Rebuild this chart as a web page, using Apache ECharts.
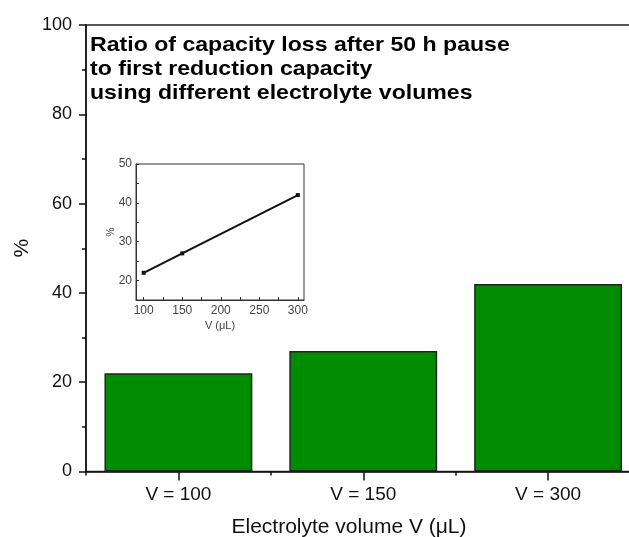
<!DOCTYPE html>
<html>
<head>
    <meta charset="UTF-8">
    <title>Capacity loss ratio</title>
    <script src="https://cdn.jsdelivr.net/npm/echarts@6/dist/echarts.min.js"></script>
    <style>
        html, body { margin: 0; padding: 0; background: #fff; }
        #main { width: 629px; height: 537px; }
    </style>
</head>
<body>
<div id="main"></div>
<script type="text/javascript">
    // data
    var categories = ['V = 100', 'V = 150', 'V = 300'];
    var lossRatio = [22, 27, 42];
    var yTicks = [0, 20, 40, 60, 80, 100];

    var insetVolume = [100, 150, 300];
    var insetRatio = [22, 27, 42];
    var insetXLabels = [100, 150, 200, 250, 300];
    var insetXTicks = [100, 125, 150, 175, 200, 225, 250, 275, 300];
    var insetYLabels = [20, 30, 40, 50];
    var insetYTicks = [20, 25, 30, 35, 40, 45, 50];

    var font = 'Liberation Sans, Arial, sans-serif';

    var myChart = echarts.init(document.getElementById('main'));

    var option = {
        animation: false,
        grid: [
            {
                left: 86, top: 25, width: 554.5, height: 446.5,
                show: true, borderColor: '#222', borderWidth: 1.5,
                containLabel: false, outerBoundsMode: 'none'
            },
            {
                left: 136, top: 164, width: 168, height: 136,
                show: true, borderColor: '#333', borderWidth: 1,
                containLabel: false, outerBoundsMode: 'none'
            }
        ],
        xAxis: [
            {
                type: 'category',
                gridIndex: 0,
                data: categories,
                axisLine: {lineStyle: {color: '#111', width: 1.5}},
                axisTick: {show: true, alignWithLabel: true, length: 9, lineStyle: {color: '#111', width: 1.5}},
                axisLabel: {margin: 14, fontSize: 19, color: '#111', fontFamily: font}
            },
            {
                // boundary ticks between categories
                type: 'category',
                gridIndex: 0,
                position: 'bottom',
                data: categories,
                axisLine: {show: false},
                axisTick: {show: true, length: 4, lineStyle: {color: '#111', width: 1.5}},
                axisLabel: {show: false}
            },
            {
                type: 'value',
                gridIndex: 1,
                min: 90,
                max: 308,
                axisLine: {show: true, onZero: false, lineStyle: {color: '#333', width: 1}},
                axisTick: {show: true, inside: true, length: 3, customValues: insetXTicks, lineStyle: {color: '#333'}},
                axisLabel: {customValues: insetXLabels, margin: 5, fontSize: 12, color: '#444', fontFamily: font},
                splitLine: {show: false},
                name: 'V (\u03bcL)',
                nameLocation: 'middle',
                nameGap: 20,
                nameTextStyle: {fontSize: 11, color: '#444', fontFamily: font}
            }
        ],
        yAxis: [
            {
                type: 'value',
                gridIndex: 0,
                min: 0,
                max: 100,
                interval: 20,
                axisLine: {show: true, lineStyle: {color: '#111', width: 1.5}},
                axisTick: {show: true, length: 7, lineStyle: {color: '#111', width: 1.5}},
                minorTick: {show: true, splitNumber: 2, length: 4, lineStyle: {color: '#111', width: 1.5}},
                axisLabel: {
                    margin: 14, fontSize: 18, color: '#111', fontFamily: font,
                    customValues: yTicks
                },
                splitLine: {show: false},
                name: '%',
                nameLocation: 'middle',
                nameGap: 53,
                nameMoveOverlap: false,
                nameTextStyle: {fontSize: 21, color: '#111', fontFamily: font}
            },
            {
                type: 'value',
                gridIndex: 1,
                min: 15,
                max: 50,
                axisLine: {show: true, onZero: false, lineStyle: {color: '#333', width: 1}},
                axisTick: {show: true, inside: true, length: 3, customValues: insetYTicks, lineStyle: {color: '#333'}},
                axisLabel: {customValues: insetYLabels, margin: 4, fontSize: 12, color: '#444', fontFamily: font},
                splitLine: {show: false},
                name: '%',
                nameLocation: 'middle',
                nameGap: 20,
                nameMoveOverlap: false,
                nameTextStyle: {fontSize: 10, color: '#444', fontFamily: font}
            }
        ],
        graphic: [
            {
                type: 'text',
                x: 90,
                y: 33,
                scaleX: 1.1,
                style: {
                    text: 'Ratio of capacity loss after 50 h pause\nto first reduction capacity\nusing different electrolyte volumes',
                    font: 'bold 21px ' + font,
                    lineHeight: 24,
                    fill: '#000'
                }
            },
            {
                type: 'text',
                x: 349,
                y: 527,
                style: {
                    text: 'Electrolyte volume V (\u03bcL)',
                    font: '21px ' + font,
                    fill: '#111',
                    align: 'center',
                    verticalAlign: 'middle'
                }
            }
        ],
        series: [
            {
                name: 'loss',
                type: 'bar',
                xAxisIndex: 0,
                yAxisIndex: 0,
                data: lossRatio,
                barCategoryGap: '20%',
                itemStyle: {color: '#008c00', borderColor: '#222', borderWidth: 1.5}
            },
            {
                name: 'inset',
                type: 'line',
                xAxisIndex: 2,
                yAxisIndex: 1,
                data: insetVolume.map(function (v, i) { return [v, insetRatio[i]]; }),
                symbol: 'rect',
                symbolSize: 4,
                lineStyle: {color: '#111', width: 2},
                itemStyle: {color: '#111'}
            }
        ]
    };

    myChart.setOption(option);
</script>
</body>
</html>
